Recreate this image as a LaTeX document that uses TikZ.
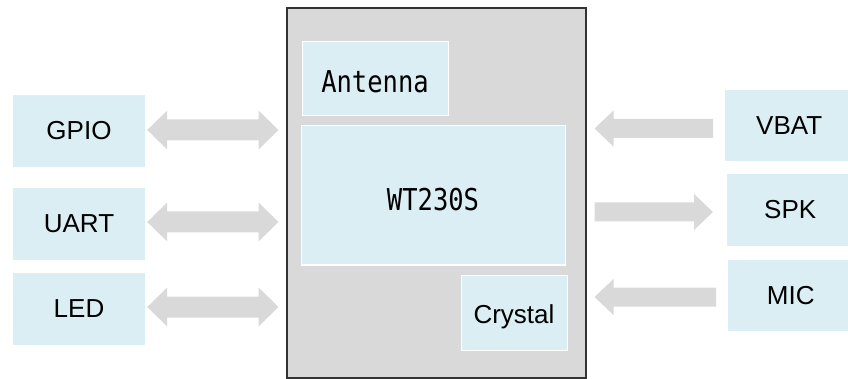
\documentclass[tikz,border=0pt]{standalone}
\usepackage{fontspec}
\usepackage{graphicx}
\setmainfont{Liberation Sans}
\newfontfamily\monofnt{DejaVu Sans Mono}
\usetikzlibrary{calc}
\definecolor{boxblue}{HTML}{DAEEF3}
\definecolor{arrgray}{HTML}{D9D9D9}
\definecolor{chipgray}{HTML}{D9D9D9}
\definecolor{chipline}{HTML}{333333}
\newcommand{\talltxt}[1]{\scalebox{1}[1.18]{#1}}
\begin{document}
\begin{tikzpicture}[x=1pt,y=-1pt,
  iobox/.style={fill=boxblue, draw=none, minimum width=132pt, minimum height=72pt, inner sep=0pt, font=\fontsize{26}{30}\selectfont},
  inbox/.style={fill=boxblue, draw=white, line width=1pt, inner sep=0pt},
  monotxt/.style={font=\monofnt\fontsize{25.5}{30}\selectfont},
  arr/.style={fill=arrgray, draw=none}]
\useasboundingbox (0,0) rectangle (848,379);
% main chip
\node[draw=chipline, line width=2pt, fill=chipgray, minimum width=299pt, minimum height=370pt, inner sep=0pt] (main) at (436,193) {};
\node[inbox, monotxt, minimum width=146pt, minimum height=74pt] (ant) at (375,79) {};
\node[monotxt, inner sep=0pt] at ($(ant.center)+(0,2.5)$) {\talltxt{Antenna}};
\node[inbox, monotxt, minimum width=264pt, minimum height=139pt] (core) at (433,195.5) {};
\node[monotxt, inner sep=0pt] at ($(core.center)+(0,4)$) {\talltxt{WT230S}};
\node[inbox, font=\fontsize{26}{30}\selectfont, minimum width=106pt, minimum height=75pt, text depth=0pt, text height=18.5pt] (xtal) at (514,312.5) {\raisebox{-2pt}{Crystal}};
% left boxes
\node[iobox] (gpio) at (79,131) {GPIO};
\node[iobox] (uart) at (79,224) {UART};
\node[iobox] (led) at (79,309) {LED};
% right boxes
\node[iobox, minimum width=124pt, minimum height=71pt, anchor=west] (vbat) at (725,125.5) {\hspace*{4pt}VBAT};
\node[iobox, minimum width=122pt, minimum height=72pt, anchor=west] (spk) at (727,210) {\hspace*{4pt}SPK};
\node[iobox, minimum width=121pt, minimum height=71pt, anchor=west] (mic) at (728,295.5) {\hspace*{4pt}MIC};
% double arrows on the left
\foreach \nd/\dy in {gpio/1, uart/2, led/2}{
  \path let \p1=(\nd.east), \p2=(main.west) in
    [arr] (\x1+2pt,\y1+\dy pt) -- (\x1+22pt,\y1+\dy pt+19.5pt) -- (\x1+22pt,\y1+\dy pt+10.5pt)
      -- (\x2-27pt,\y1+\dy pt+10.5pt) -- (\x2-27pt,\y1+\dy pt+19.5pt) -- (\x2-7pt,\y1+\dy pt)
      -- (\x2-27pt,\y1+\dy pt-19.5pt) -- (\x2-27pt,\y1+\dy pt-10.5pt) -- (\x1+22pt,\y1+\dy pt-10.5pt)
      -- (\x1+22pt,\y1+\dy pt-19.5pt) -- cycle;
}
% single arrows into the chip (VBAT, MIC)
\foreach \nd/\dy in {vbat/3, mic/1.5}{
  \path let \p1=(main.east), \p2=(\nd.west) in
    [arr] (\x1+8pt,\y2-\dy pt) -- (\x1+27pt,\y2-\dy pt+18pt) -- (\x1+27pt,\y2-\dy pt+9.5pt)
      -- (\x2-12pt,\y2-\dy pt+9.5pt) -- (\x2-12pt,\y2-\dy pt-9.5pt) -- (\x1+27pt,\y2-\dy pt-9.5pt)
      -- (\x1+27pt,\y2-\dy pt-18pt) -- cycle;
}
% single arrow out of the chip (SPK)
\path let \p1=(main.east), \p2=(spk.west) in
  [arr] (\x1+8pt,\y2-2pt+9.5pt) -- (\x2-33pt,\y2-2pt+9.5pt) -- (\x2-33pt,\y2-2pt+18pt)
    -- (\x2-14pt,\y2-2pt) -- (\x2-33pt,\y2-2pt-18pt) -- (\x2-33pt,\y2-2pt-9.5pt)
    -- (\x1+8pt,\y2-2pt-9.5pt) -- cycle;
\end{tikzpicture}
\end{document}
